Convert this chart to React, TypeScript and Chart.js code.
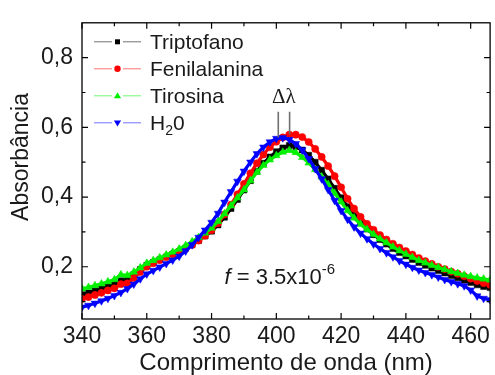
import React, { useEffect, useRef } from 'react';
import { Chart, registerables } from 'chart.js';

Chart.register(...registerables);

const FONT = '"Liberation Sans", Arial, sans-serif';
const TEXT = '#1a1a1a';

const wavelengths = [
  340, 342, 344, 346, 348, 350, 352, 354, 356, 358, 360, 362, 364, 366, 368, 370,
  372, 374, 376, 378, 380, 382, 384, 386, 388, 390, 392, 394, 396, 398, 400, 402,
  404, 406, 408, 410, 412, 414, 416, 418, 420, 422, 424, 426, 428, 430, 432, 434,
  436, 438, 440, 442, 444, 446, 448, 450, 452, 454, 456, 458, 460, 462, 464, 466,
];

const triptofano = [
  0.120, 0.125, 0.131, 0.137, 0.143, 0.150, 0.160, 0.163, 0.178, 0.192, 0.204, 0.212, 0.220, 0.228, 0.236, 0.244,
  0.253, 0.263, 0.275, 0.288, 0.302, 0.320, 0.342, 0.367, 0.393, 0.420, 0.447, 0.474, 0.497, 0.515, 0.530, 0.541,
  0.548, 0.545, 0.535, 0.520, 0.500, 0.477, 0.452, 0.425, 0.398, 0.372, 0.348, 0.327, 0.308, 0.292, 0.278, 0.265,
  0.252, 0.241, 0.231, 0.221, 0.212, 0.204, 0.196, 0.189, 0.182, 0.175, 0.168, 0.161, 0.155, 0.148, 0.143, 0.140,
];

const fenilalanina = [
  0.108, 0.113, 0.119, 0.125, 0.132, 0.138, 0.150, 0.152, 0.168, 0.185, 0.200, 0.210, 0.219, 0.228, 0.236, 0.244,
  0.253, 0.263, 0.275, 0.289, 0.305, 0.325, 0.350, 0.378, 0.408, 0.438, 0.468, 0.497, 0.522, 0.543, 0.559, 0.571,
  0.579, 0.579, 0.572, 0.558, 0.538, 0.515, 0.489, 0.460, 0.428, 0.395, 0.367, 0.343, 0.323, 0.306, 0.291, 0.278,
  0.266, 0.255, 0.245, 0.235, 0.225, 0.216, 0.208, 0.200, 0.193, 0.186, 0.180, 0.173, 0.166, 0.159, 0.153, 0.148,
];

const tirosina = [
  0.137, 0.141, 0.146, 0.151, 0.157, 0.163, 0.177, 0.175, 0.185, 0.197, 0.210, 0.218, 0.226, 0.234, 0.242, 0.251,
  0.261, 0.272, 0.284, 0.297, 0.311, 0.330, 0.352, 0.375, 0.398, 0.421, 0.447, 0.471, 0.491, 0.507, 0.519, 0.529,
  0.534, 0.528, 0.514, 0.498, 0.479, 0.458, 0.436, 0.411, 0.386, 0.361, 0.340, 0.322, 0.307, 0.293, 0.280, 0.269,
  0.257, 0.246, 0.236, 0.227, 0.218, 0.211, 0.204, 0.198, 0.192, 0.186, 0.181, 0.176, 0.172, 0.168, 0.165, 0.162,
];

const agua = [
  0.084, 0.089, 0.095, 0.102, 0.109, 0.117, 0.126, 0.137, 0.150, 0.165, 0.179, 0.189, 0.199, 0.209, 0.219, 0.230,
  0.245, 0.263, 0.284, 0.305, 0.327, 0.353, 0.385, 0.415, 0.445, 0.474, 0.500, 0.524, 0.543, 0.558, 0.568, 0.570,
  0.565, 0.553, 0.535, 0.510, 0.481, 0.452, 0.421, 0.390, 0.361, 0.336, 0.314, 0.296, 0.280, 0.265, 0.252, 0.240,
  0.228, 0.217, 0.207, 0.198, 0.190, 0.183, 0.177, 0.170, 0.163, 0.157, 0.151, 0.145, 0.133, 0.116, 0.109, 0.105,
];

const seriesNames = ['Triptofano', 'Fenilalanina', 'Tirosina', 'H2O'];
const seriesColors = ['#000000', '#ff0000', '#00f000', '#0000ff'];
const seriesStyles = ['rect', 'circle', 'triangle', 'triangle'];
const seriesRotation = [0, 0, 0, 180];

const xTicks = [340, 360, 380, 400, 420, 440, 460];
const xMinorTicks = [350, 370, 390, 410, 430, 450];
const yTicks = [0.2, 0.4, 0.6, 0.8];
const yMinorTicks = [0.1, 0.3, 0.5, 0.7];

// Δλ markers: peak wavelengths and peak absorbances of H2O and Fenilalanina
const deltaX = [400.6, 404.1];
const deltaY = [0.571, 0.580];
const deltaTop = 0.645;
const deltaLabelY = 0.67;

const annotX = 384;
const annotY = 0.151;

function drawMarker(ctx: CanvasRenderingContext2D, style: string, rot: number, x: number, y: number, color: string) {
  ctx.save();
  ctx.fillStyle = color;
  ctx.beginPath();
  if (style === 'rect') {
    ctx.rect(x - 2.5, y - 2.5, 5, 5);
  } else if (style === 'circle') {
    ctx.arc(x, y, 3.2, 0, Math.PI * 2);
  } else {
    const s = rot ? -1 : 1;
    ctx.moveTo(x, y - 3.6 * s);
    ctx.lineTo(x + 3.6, y + 2.4 * s);
    ctx.lineTo(x - 3.6, y + 2.4 * s);
    ctx.closePath();
  }
  ctx.fill();
  ctx.restore();
}

const decorPlugin = {
  id: 'decor',
  afterDraw(chart: any) {
    const ctx: CanvasRenderingContext2D = chart.ctx;
    const { left, right, top, bottom } = chart.chartArea;
    const xs = chart.scales.x;
    const ys = chart.scales.y;
    ctx.save();

    // frame
    ctx.strokeStyle = '#000';
    ctx.lineWidth = 1.3;
    ctx.strokeRect(left, top, right - left, bottom - top);

    // inward ticks on all four sides
    ctx.lineWidth = 1.2;
    ctx.beginPath();
    const xt = (v: number, len: number) => {
      const p = xs.getPixelForValue(v);
      ctx.moveTo(p, bottom); ctx.lineTo(p, bottom - len);
      ctx.moveTo(p, top); ctx.lineTo(p, top + len);
    };
    const yt = (v: number, len: number) => {
      const p = ys.getPixelForValue(v);
      ctx.moveTo(left, p); ctx.lineTo(left + len, p);
      ctx.moveTo(right, p); ctx.lineTo(right - len, p);
    };
    xTicks.forEach((v) => xt(v, 6));
    xMinorTicks.forEach((v) => xt(v, 3.5));
    yTicks.forEach((v) => yt(v, 6));
    yMinorTicks.forEach((v) => yt(v, 3.5));
    ctx.stroke();

    // axis titles
    ctx.fillStyle = TEXT;
    ctx.font = `24px ${FONT}`;
    ctx.textAlign = 'center';
    ctx.textBaseline = 'alphabetic';
    ctx.fillText('Comprimento de onda (nm)', (left + right) / 2, 370);
    ctx.save();
    ctx.translate(28, 157);
    ctx.rotate(-Math.PI / 2);
    ctx.font = `23px ${FONT}`;
    ctx.fillText('Absorbância', 0, 0);
    ctx.restore();

    // legend
    const rowH = 27;
    const ly0 = top + 19;
    seriesNames.forEach((name, i) => {
      const yc = ly0 + i * rowH;
      const color = seriesColors[i];
      ctx.save();
      ctx.globalAlpha = 0.55;
      ctx.strokeStyle = color;
      ctx.lineWidth = 1;
      ctx.beginPath();
      ctx.moveTo(left + 12, yc); ctx.lineTo(left + 30, yc);
      ctx.moveTo(left + 41, yc); ctx.lineTo(left + 59, yc);
      ctx.stroke();
      ctx.restore();
      drawMarker(ctx, seriesStyles[i], seriesRotation[i], left + 35.5, yc, color);
      ctx.fillStyle = TEXT;
      ctx.textAlign = 'left';
      ctx.textBaseline = 'alphabetic';
      ctx.font = `21px ${FONT}`;
      const tx = left + 68;
      const base = yc + 7.5;
      if (name === 'H2O') {
        ctx.fillText('H', tx, base);
        const w1 = ctx.measureText('H').width;
        ctx.font = `14px ${FONT}`;
        ctx.fillText('2', tx + w1, base + 5);
        const w2 = ctx.measureText('2').width;
        ctx.font = `21px ${FONT}`;
        ctx.fillText('0', tx + w1 + w2, base);
      } else {
        ctx.fillText(name, tx, base);
      }
    });

    // Δλ lines and label
    ctx.strokeStyle = '#707070';
    ctx.lineWidth = 1.6;
    ctx.beginPath();
    deltaX.forEach((dx, i) => {
      const px = xs.getPixelForValue(dx);
      ctx.moveTo(px, ys.getPixelForValue(deltaTop));
      ctx.lineTo(px, ys.getPixelForValue(deltaY[i]));
    });
    ctx.stroke();
    ctx.fillStyle = TEXT;
    ctx.font = `21px "Liberation Serif", serif`;
    ctx.textAlign = 'center';
    ctx.fillText('Δλ', xs.getPixelForValue((deltaX[0] + deltaX[1]) / 2), ys.getPixelForValue(deltaLabelY));

    // f = 3.5x10^-6
    ctx.textAlign = 'left';
    let ax = xs.getPixelForValue(annotX);
    const ay = ys.getPixelForValue(annotY);
    ctx.font = `italic 22px ${FONT}`;
    ctx.fillText('f', ax, ay);
    ax += ctx.measureText('f').width;
    ctx.font = `22px ${FONT}`;
    ctx.fillText(' = 3.5x10', ax, ay);
    ax += ctx.measureText(' = 3.5x10').width;
    ctx.font = `15px ${FONT}`;
    ctx.fillText('-6', ax, ay - 10);

    ctx.restore();
  },
};

export default function App() {
  const ref = useRef<HTMLCanvasElement>(null);
  useEffect(() => {
    if (!ref.current) return;
    const series = [triptofano, fenilalanina, tirosina, agua];
    const chart = new Chart(ref.current, {
      type: 'scatter',
      data: {
        datasets: series.map((vals, i) => ({
          label: seriesNames[i],
          data: wavelengths.map((x, k) => ({ x, y: vals[k] })),
          showLine: true,
          borderColor: seriesColors[i],
          backgroundColor: seriesColors[i],
          borderWidth: 3.2,
          pointStyle: seriesStyles[i] as any,
          pointRotation: seriesRotation[i],
          pointRadius: seriesStyles[i] === 'circle' ? 3.6 : seriesStyles[i] === 'rect' ? 4.2 : 4.4,
          pointBorderWidth: 0.5,
          pointBorderColor: seriesColors[i],
          order: 3 - i,
        })),
      },
      options: {
        animation: false,
        responsive: false,
        events: [],
        layout: { padding: { left: 0, top: 14.5, right: 1, bottom: 0 } },
        plugins: { legend: { display: false }, tooltip: { enabled: false } },
        scales: {
          x: {
            type: 'linear',
            min: 340,
            max: 466,
            afterBuildTicks: (s: any) => { s.ticks = xTicks.map((v) => ({ value: v })); },
            afterFit: (s: any) => { s.height = 56; },
            grid: { display: false, drawTicks: false },
            border: { display: false },
            ticks: {
              font: { family: FONT, size: 23 },
              color: TEXT,
              padding: 4,
              maxRotation: 0,
              autoSkip: false,
              callback: (v: any) => String(v),
            },
          },
          y: {
            type: 'linear',
            min: 0.05,
            max: 0.9,
            afterBuildTicks: (s: any) => { s.ticks = yTicks.map((v) => ({ value: v })); },
            afterFit: (s: any) => { s.width = 82; },
            grid: { display: false, drawTicks: false },
            border: { display: false },
            ticks: {
              font: { family: FONT, size: 23 },
              color: TEXT,
              padding: 9,
              autoSkip: false,
              callback: (v: any) => Number(v).toFixed(1).replace('.', ','),
            },
          },
        },
      },
      plugins: [decorPlugin],
    });
    return () => chart.destroy();
  }, []);
  return (
    <div style={{ position: 'fixed', left: 0, top: 0, width: 495, height: 375, background: '#fff' }}>
      <canvas ref={ref} width={495} height={375} style={{ display: 'block', width: 495, height: 375 }} />
    </div>
  );
}
